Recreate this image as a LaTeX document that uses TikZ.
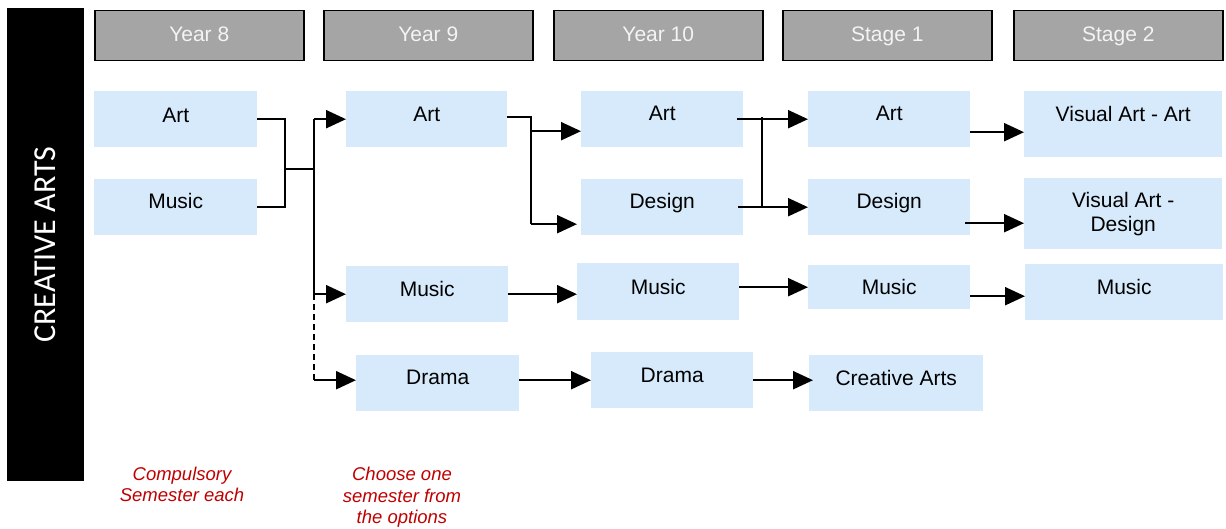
\documentclass[tikz,border=0pt]{standalone}
\usepackage{fontspec}
\setmainfont{Liberation Sans}
\newfontfamily\sidefont{Carlito}
\usetikzlibrary{arrows.meta}
\definecolor{boxblue}{HTML}{D6EAFB}
\definecolor{headgray}{HTML}{A5A5A5}
\definecolor{headtext}{HTML}{F4F4F4}
\definecolor{notered}{HTML}{C00000}
\tikzset{
  course/.style={fill=boxblue, inner sep=0pt, anchor=north west,
    minimum width=162pt, minimum height=56pt, text height=14pt, text depth=11pt,
    font=\fontsize{21}{24}\selectfont},
  header/.style={fill=headgray, draw=black, line width=1.5pt, inner sep=0pt,
    anchor=north west, minimum width=209pt, minimum height=50pt,
    text height=14pt, text depth=2.5pt,
    text=headtext, font=\fontsize{21}{24}\selectfont},
  note/.style={text=notered, align=center, inner sep=0pt,
    font=\fontsize{18.5}{21.5}\selectfont\itshape},
  conn/.style={line width=2.2pt},
  arr/.style={line width=2.2pt, -{Triangle[length=20pt,width=18pt]}}
}
\begin{document}
\begin{tikzpicture}[x=1pt,y=-1pt]
                \useasboundingbox (0,0) rectangle (1226,529);
                
                % Drawing side bar
                \node [fill=black, text=white, rotate=90, inner sep=0pt,
                  minimum width=473pt, minimum height=77pt,
                  font=\sidefont\fontsize{32}{36}\selectfont] (side) at (45.5,244.5) {CREATIVE ARTS};
                
                % Drawing headers
                \node [header] (h8) at (94,10) {Year 8};
                \node [header] (h9) at (323,10) {Year 9};
                \node [header] (h10) at (553,10) {Year 10};
                \node [header] (hs1) at (782,10) {Stage 1};
                \node [header] (hs2) at (1013,10) {Stage 2};
                
                % Drawing Year 8 boxes
                \node [course, minimum width=163pt, text depth=7.3pt] (y8art) at (94,91) {Art};
                \node [course, minimum width=163pt] (y8mus) at (94,179) {Music};
                
                % Drawing Year 9 boxes
                \node [course, minimum width=161pt, text depth=9.3pt] (y9art) at (346,91) {Art};
                \node [course, text depth=9.3pt] (y9mus) at (346,266) {Music};
                \node [course, minimum width=163pt] (y9dra) at (356,355) {Drama};
                
                % Drawing Year 10 boxes
                \node [course] (y10art) at (581,91) {Art};
                \node [course] (y10des) at (581,179) {Design};
                \node [course, minimum height=57pt, text depth=8.3pt] (y10mus) at (577,263) {Music};
                \node [course, text depth=9.3pt] (y10dra) at (591,352) {Drama};
                
                % Drawing Stage 1 boxes
                \node [course] (s1art) at (808,91) {Art};
                \node [course] (s1des) at (808,179) {Design};
                \node [course, minimum height=44pt, text depth=0pt] (s1mus) at (808,265) {Music};
                \node [course, minimum width=174pt, text depth=9.3pt] (s1cre) at (809,355) {Creative Arts};
                
                % Drawing Stage 2 boxes
                \node [course, minimum width=198pt, minimum height=66pt, text depth=19.3pt] (s2art) at (1024,91) {Visual Art - Art};
                \node [course, minimum width=198pt, minimum height=71pt, text height=, text depth=, align=center] (s2des) at (1024,178) {Visual Art -\\Design};
                \node [course, minimum width=198pt, text depth=9.3pt] (s2mus) at (1025,264) {Music};
                
                % Marking notes
                \node [note] (n8) at (182,484.5) {Compulsory\\Semester each};
                \node [note] (n9) at (402,497.5) {Choose one\\semester from\\the options};
                
                % Drawing bracket Year 8 to Year 9
                \coordinate (b8) at (285,169);
                \coordinate (t9) at (314,169);
                \draw [conn] (y8art.east) -| (b8);%
                \draw [conn] (y8mus.east) -| (b8);%
                \draw [conn] (b8) -- (t9);%
                \draw [conn] (t9 |- y9art.west) -- (t9 |- y9mus.west);%
                \draw [conn, line width=1.6pt, dash pattern=on 6pt off 4pt] (t9 |- y9mus.west) -- (t9 |- y9dra.west);%
                \draw [arr] (t9 |- y9art.west) -- (y9art.west);%
                \draw [arr] (t9 |- y9mus.west) -- (y9mus.west);%
                \draw [arr] ([yshift=3pt]t9 |- y9dra.west) -- ([yshift=3pt]y9dra.west);%
                
                % Drawing bracket Year 9 Art to Year 10
                \coordinate (b9) at (531,0);
                \draw [conn] ([yshift=2pt]y9art.east) -- ([yshift=2pt]y9art.east -| b9) -- ([yshift=-17pt]y10des.west -| b9);%
                \draw [arr] ([yshift=-12pt]y10art.west -| b9) -- ([yshift=-12pt]y10art.west);%
                \draw [arr] ([yshift=-17pt]y10des.west -| b9) -- ([yshift=-17pt,xshift=-4pt]y10des.west);%
                
                % Drawing bracket Year 10 to Stage 1
                \coordinate (b10) at (762,0);
                \draw [arr] ([xshift=-6pt]y10art.east) -- (s1art.west);%
                \draw [arr] ([xshift=-5pt]y10des.east) -- (s1des.west);%
                \draw [conn] ([yshift=2pt]y10art.east -| b10) -- (y10des.east -| b10);%
                
                % Drawing straight arrows
                \draw [arr] (y9mus.east) -- (y9mus.east -| y10mus.west);%
                \draw [arr] ([yshift=3pt]y9dra.east) -- ([yshift=3pt]y9dra.east -| y10dra.west);%
                \draw [arr] (y10mus.east |- s1mus.west) -- (s1mus.west);%
                \draw [arr] (y10dra.east) -- ([xshift=4pt]y10dra.east -| s1cre.west);%
                \draw [arr] ([yshift=-13pt]s1art.east) -- ([yshift=-13pt]s1art.east -| s2art.west);%
                \draw [arr] ([yshift=-16pt,xshift=-5pt]s1des.east) -- ([yshift=-16pt]s1des.east -| s2des.west);%
                \draw [arr] ([yshift=-9pt]s1mus.east) -- ([yshift=-9pt]s1mus.east -| s2mus.west);%
\end{tikzpicture}
\end{document}
